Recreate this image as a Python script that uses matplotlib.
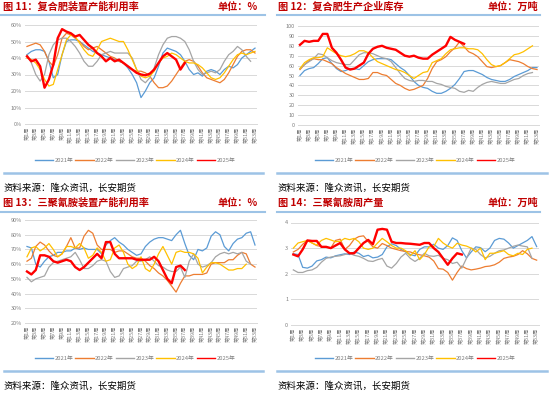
import numpy as np
import matplotlib
matplotlib.use("Agg")
import matplotlib.pyplot as plt
from matplotlib.lines import Line2D

plt.rcParams['font.family'] = ['Noto Sans CJK SC', 'DejaVu Sans']

nan = np.nan
weeks = list(range(1, 54))
years = ['2021年', '2022年', '2023年', '2024年', '2025年']
colors = ['#5B9BD5', '#ED7D31', '#A5A5A5', '#FFC000', '#FF0000']
week_labels = [f'第{w}周' for w in weeks]

# ---- 图11 复合肥装置产能利用率 (%) ----
cf_util_2021 = [42, 44, 45, 45, 44, 38, 28, 30, 42, 50, 51, 51, 50, 48, 46, 44, 43, 42, 41, 40, 39, 38, 37, 34, 30, 25, 16,
                20, 25, 28, 35, 43, 46, 45, 44, 42, 38, 33, 30, 31, 29, 32, 33, 32, 30, 33, 35, 34, 36, 40, 42, 44, 46]
cf_util_2022 = [47, 48, 49, 48, 44, 38, 35, 42, 52, 55, 54, 52, 50, 47, 45, 46, 47, 45, 43, 41, 40, 38, 37, 35, 33, 32, 32,
                31, 29, 25, 22, 22, 23, 26, 30, 34, 38, 39, 38, 35, 31, 28, 27, 26, 25, 27, 31, 36, 41, 44, 45, 45, 43]
cf_util_2023 = [42, 37, 30, 26, 30, 42, 48, 51, 52, 52, 50, 47, 43, 38, 35, 35, 38, 42, 43, 44, 43, 43, 43, 43, 40, 33, 27,
                25, 28, 34, 42, 48, 52, 53, 53, 52, 50, 45, 38, 33, 30, 31, 32, 31, 33, 38, 42, 44, 47, 45, 41, 38, nan]
cf_util_2024 = [40, 39, 37, 33, 27, 23, 24, 33, 42, 51, 54, 53, 49, 45, 42, 41, 45, 50, 51, 52, 51, 50, 50, 45, 39, 33, 29,
                28, 29, 32, 37, 40, 41, 43, 42, 40, 38, 37, 37, 36, 34, 31, 28, 27, 28, 31, 35, 39, 42, 43, 42, 43, 44]
cf_util_2025 = [41, 38, 39, 35, 22, 27, 36, 52, 57.5, 56, 55, 53, 54, 51, 48, 46, 43, 41, 38, 40, 38, 39, 37, 35, 33, 31,
                30, 29.5, 30.5, 33, 37, 41, 43, 41, 39, 33, 37] + [nan] * 16

# ---- 图12 复合肥生产企业库存 (万吨) ----
cf_inv_2021 = [50, 55, 57, 58, 62, 67, 68, 62, 57, 54, 55, 57, 57, 56, 60, 64, 66, 67, 67, 67, 66, 62, 58, 55, 50, 44, 40,
               38, 37, 34, 32, 32, 34, 37, 41, 47, 54, 55, 55, 53, 51, 48, 46, 45, 44, 44, 46, 49, 51, 53, 55, 58, 58]
cf_inv_2022 = [56, 61, 65, 67, 66, 66, 64, 62, 58, 55, 52, 50, 48, 46, 46, 47, 53, 53, 51, 50, 46, 42, 40, 37, 35, 36, 38,
               40, 47, 57, 64, 66, 69, 74, 78, 84, 79, 74, 72, 69, 64, 59, 58, 59, 60, 63, 66, 65, 64, 62, 59, 57, 56]
cf_inv_2023 = [57, 61, 64, 67, 72, 71, 68, 65, 63, 62, 61, 61, 66, 71, 73, 73, 72, 70, 68, 67, 64, 58, 52, 47, 45, 44, 45,
               45, 44, 44, 42, 41, 39, 38, 37, 34, 33, 35, 34, 38, 41, 43, 44, 43, 42, 42, 44, 46, 47, 50, 52, 53, nan]
cf_inv_2024 = [57, 63, 66, 68, 68, 69, 78, 75, 72, 70, 69, 70, 72, 75, 75, 73, 68, 64, 62, 60, 58, 56, 55, 53, 50, 47, 50,
               53, 54, 63, 65, 67, 72, 76, 77, 78, 78, 77, 77, 76, 72, 66, 61, 59, 60, 63, 67, 71, 72, 74, 77, 80, nan]
cf_inv_2025 = [81, 85, 84, 85, 85, 92, 92, 78, 73, 66, 58, 56, 57, 60, 63, 72, 77, 79, 80, 78, 77, 76, 73, 70, 69, 70, 68,
               67, 67, 71, 74, 77, 80, 89, 86, 84, 82] + [nan] * 16

# ---- 图13 三聚氰胺装置产能利用率 (%) ----
mel_util_2021 = [72, 71, 60, 58, 62, 65, 66, 68, 68, 69, 69, 71, 70, 71, 70, 70, 70, 67, 73, 76, 78, 75, 73, 70, 68, 66, 67,
                 72, 75, 77, 78, 78, 77, 76, 80, 83, 74, 66, 63, 70, 69, 71, 79, 82, 80, 72, 69, 74, 77, 78, 81, 82, 73]
mel_util_2022 = [62, 64, 72, 75, 73, 69, 66, 65, 67, 72, 78, 71, 71, 79, 83, 81, 73, 70, 70, 70, 68, 69, 69, 67, 65, 64, 64,
                 62, 59, 57, 54, 52, 49, 45, 41, 47, 52, 52, 53, 53, 53, 54, 60, 61, 61, 61, 63, 63, 66, 68, 67, 60, 58]
mel_util_2023 = [51, 48, 50, 51, 52, 58, 61, 62, 63, 64, 65, 68, 63, 57, 57, 59, 62, 63, 62, 55, 51, 52, 57, 58, 59, 62, 62,
                 63, 65, 62, 59, 58, 56, 55, 55, 58, 51, 62, 67, 60, 58, 59, 61, 65, 67, 68, 67, 68, 67, 68, 62, 60, nan]
mel_util_2024 = [65, 71, 72, 69, 71, 74, 70, 65, 67, 72, 72, 71, 74, 71, 64, 66, 71, 68, 62, 63, 71, 73, 68, 60, 57, 59, 65,
                 57, 55, 60, 67, 72, 66, 60, 68, 69, 68, 68, 67, 64, 54, 58, 61, 61, 60, 58, 56, 56, 57, 57, 60, nan, nan]
mel_util_2025 = [55, 53, 56, 66, 66, 65, 62, 61, 62, 63, 62, 58, 56, 58, 61, 64, 67, 64, 75, 75, 67, 64, 64, 64, 64, 63, 63,
                 63, 63, 65, 62, 56, 50, 47, 58, 59, 56] + [nan] * 16

# ---- 图14 三聚氰胺周产量 (万吨) ----
mel_out_2021 = [2.78, 2.75, 2.25, 2.22, 2.3, 2.5, 2.55, 2.65, 2.62, 2.7, 2.74, 2.78, 2.75, 2.85, 2.8, 2.67, 2.72, 2.62,
                2.65, 2.75, 3.05, 3.17, 3.1, 2.95, 2.85, 2.75, 2.7, 2.95, 3.05, 3.05, 3.15, 3.0, 2.95, 3.1, 3.4, 3.3, 2.9,
                2.62, 2.85, 3.05, 3.02, 2.86, 3.0, 3.3, 3.38, 3.35, 3.2, 3.0, 3.1, 3.2, 3.3, 3.45, 3.06]
mel_out_2022 = [2.85, 2.95, 3.15, 3.3, 3.2, 3.1, 3.06, 3.04, 3.0, 3.3, 3.35, 2.95, 3.1, 3.35, 3.45, 3.48, 3.25, 3.05,
                3.0, 3.18, 3.1, 3.0, 2.95, 2.9, 2.87, 2.85, 2.78, 2.74, 2.7, 2.65, 2.5, 2.2, 2.18, 2.05, 1.75, 2.05, 2.3,
                2.2, 2.15, 2.18, 2.22, 2.28, 2.3, 2.35, 2.45, 2.6, 2.65, 2.68, 2.75, 2.9, 2.78, 2.6, 2.53]
mel_out_2023 = [2.15, 2.05, 2.05, 2.12, 2.15, 2.25, 2.45, 2.6, 2.65, 2.68, 2.7, 2.75, 2.8, 2.72, 2.68, 2.6, 2.5, 2.48,
                2.55, 2.6, 2.3, 2.22, 2.4, 2.65, 2.8, 2.6, 2.48, 2.6, 2.8, 2.7, 2.68, 2.72, 2.6, 2.55, 2.4, 2.45, 2.22,
                2.6, 3.0, 2.95, 2.75, 2.62, 2.68, 2.8, 2.9, 2.93, 3.0, 3.07, 3.12, 3.08, 3.05, 2.6, nan]
mel_out_2024 = [3.0, 3.2, 3.25, 3.3, 3.2, 3.12, 3.3, 3.38, 3.32, 3.25, 3.27, 3.38, 3.33, 3.38, 3.25, 3.0, 2.95, 3.0,
                3.2, 3.38, 3.25, 3.1, 3.0, 3.0, 2.9, 2.7, 2.9, 2.55, 2.75, 3.05, 3.06, 3.38, 3.2, 3.08, 3.0, 3.19, 3.12,
                3.08, 3.0, 2.85, 3.0, 2.55, 2.8, 2.8, 2.85, 2.9, 2.75, 2.7, 2.8, 2.75, 2.95, 3.0, nan]
mel_out_2025 = [2.75, 2.68, 2.95, 3.3, 3.28, 3.28, 3.05, 3.05, 3.0, 3.1, 3.2, 2.95, 2.8, 2.8, 3.0, 3.2, 3.32, 3.15,
                3.72, 3.75, 3.72, 3.25, 3.2, 3.2, 3.18, 3.17, 3.15, 3.13, 3.2, 3.2, 3.0, 2.85, 2.6, 2.35, 2.6, 2.8,
                2.75] + [nan] * 16

W, H = 550, 393
fig = plt.figure(figsize=(W / 100, H / 100), dpi=100)


def fx(x):
    return x / W


def fy(y):
    return 1 - y / H


def add_axes(x0, y0, x1, y1):
    return fig.add_axes([fx(x0), fy(y1), fx(x1) - fx(x0), (y1 - y0) / H])


panels = [
    dict(title='图 11：复合肥装置产能利用率', unit='单位：%', box=(24.8, 25, 257.2, 124),
         ylim=(0, 60), step=10, pct=True,
         data=[cf_util_2021, cf_util_2022, cf_util_2023, cf_util_2024, cf_util_2025],
         tx=3, ux=258, ty=7, line=(1, 265, 15), bline=(4, 263, 173), leg=(135, 160), src=(4, 188)),
    dict(title='图 12：复合肥生产企业库存', unit='单位：万吨', box=(297.7, 26, 539.3, 125),
         ylim=(0, 100), step=10, pct=False,
         data=[cf_inv_2021, cf_inv_2022, cf_inv_2023, cf_inv_2024, cf_inv_2025],
         tx=278, ux=538, ty=7, line=(277, 540, 15), bline=(277, 547, 173), leg=(415, 160), src=(278, 188)),
    dict(title='图 13：三聚氰胺装置产能利用率', unit='单位：%', box=(24.8, 220, 257.2, 323),
         ylim=(20, 90), step=10, pct=True,
         data=[mel_util_2021, mel_util_2022, mel_util_2023, mel_util_2024, mel_util_2025],
         tx=3, ux=258, ty=203, line=(1, 265, 212), bline=(4, 263, 371), leg=(135, 358), src=(4, 386)),
    dict(title='图 14：三聚氰胺周产量', unit='单位：万吨', box=(291, 222.5, 539, 325),
         ylim=(0, 4), step=1, pct=False,
         data=[mel_out_2021, mel_out_2022, mel_out_2023, mel_out_2024, mel_out_2025],
         tx=278, ux=538, ty=203, line=(277, 540, 212), bline=(277, 547, 371), leg=(415, 358), src=(278, 386)),
]

title_color = '#C00000'
band_color = '#9DC3E6'
tick_color = '#7F7F7F'

for p in panels:
    x0, y0, x1, y1 = p['box']
    ax = add_axes(x0, y0, x1, y1)
    for i, (series, c) in enumerate(zip(p['data'], colors)):
        lw = 1.7 if i == 4 else 0.9
        ax.plot(weeks, series, color=c, lw=lw, zorder=3 + i, solid_joinstyle='round')
    ax.set_xlim(0.5, 53.5)
    lo, hi = p['ylim']
    ax.set_ylim(lo, hi)
    yt = np.arange(lo, hi + p['step'] / 2, p['step'])
    ax.set_yticks(yt)
    if p['pct']:
        ax.set_yticklabels([f'{int(v)}%' for v in yt])
    else:
        ax.set_yticklabels([f'{int(v)}' for v in yt])
    ax.grid(axis='y', color='#D9D9D9', lw=0.7)
    ax.set_axisbelow(True)
    for s in ['top', 'right', 'left']:
        ax.spines[s].set_visible(False)
    ax.spines['bottom'].set_color('#D9D9D9')
    ax.spines['bottom'].set_linewidth(0.7)
    ax.set_xticks(weeks[::2])
    ax.set_xticklabels(week_labels[::2], rotation=90, fontsize=3.8, color=tick_color)
    ax.tick_params(axis='both', length=0, pad=2)
    ax.tick_params(axis='y', labelsize=4, labelcolor=tick_color)
    ax.set_facecolor('none')

    fig.text(fx(p['tx']), fy(p['ty']), p['title'], color=title_color, fontsize=7.3,
             fontweight='bold', va='center', ha='left')
    fig.text(fx(p['ux']), fy(p['ty']), p['unit'], color=title_color, fontsize=7.3,
             fontweight='bold', va='center', ha='right')
    lx0, lx1, ly = p['line']
    fig.add_artist(Line2D([fx(lx0), fx(lx1)], [fy(ly), fy(ly)], color=band_color, lw=1.5))
    bx0, bx1, by = p['bline']
    fig.add_artist(Line2D([fx(bx0), fx(bx1)], [fy(by), fy(by)], color=band_color, lw=1.8))
    fig.text(fx(p['src'][0]), fy(p['src'][1]), '资料来源：隆众资讯，长安期货', color='black',
             fontsize=6.8, va='center', ha='left')

    handles = [Line2D([], [], color=c, lw=1.0) for c in colors]
    lx, lyy = p['leg']
    fig.legend(handles, years, loc='center', bbox_to_anchor=(fx(lx), fy(lyy)), ncol=5, frameon=False,
               fontsize=4.2, handlelength=3.2, handletextpad=0.2, columnspacing=0.3,
               labelcolor=tick_color, borderaxespad=0)

fig.savefig('out.png', dpi=100)
